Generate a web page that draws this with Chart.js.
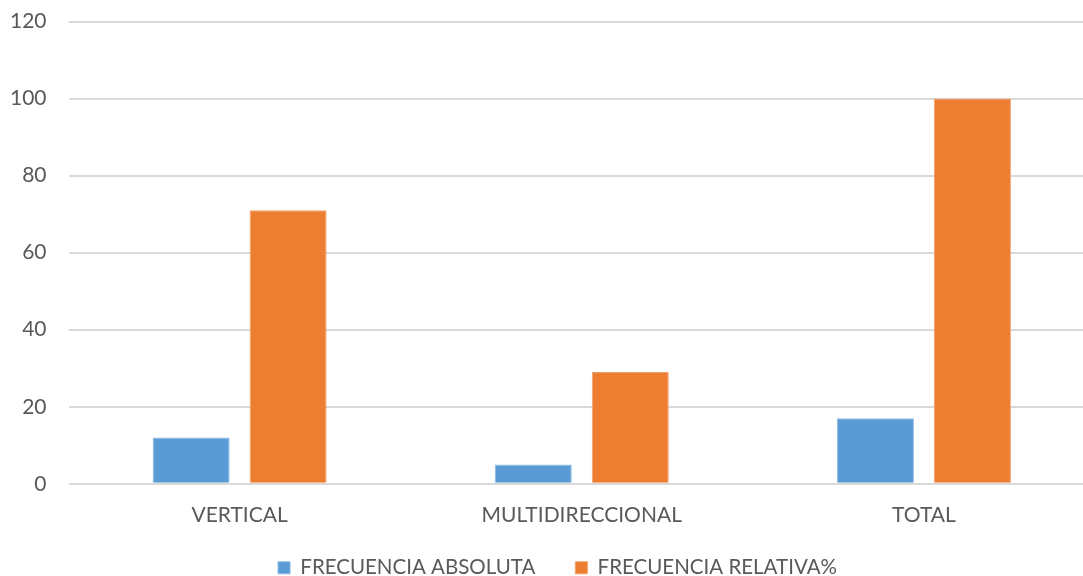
<!DOCTYPE html>
<html>
<head>
<meta charset="utf-8">
<script src="https://cdn.jsdelivr.net/npm/chart.js@4/dist/chart.umd.min.js"></script>
<style>
    html, body { margin: 0; padding: 0; background: #fff; overflow: hidden; }
    #wrap { width: 1100px; height: 576px; }
</style>
</head>
<body>
<div id="wrap"><canvas id="barChart" width="1100" height="576"></canvas></div>
<script>
const categories = ['VERTICAL', 'MULTIDIRECCIONAL', 'TOTAL'];
const absoluta = [12, 5, 17];
const relativa = [71, 29, 100];
const seriesNames = ['FRECUENCIA ABSOLUTA', 'FRECUENCIA RELATIVA%'];
const yMax = 120;
const yStep = 20;

const textColor = '#595959';
const gridColor = '#d9d9d9';
const fontFamily = 'Lato, "Open Sans", sans-serif';

// move the legend up under the category labels and a bit right of centre
const legendShift = {
    id: 'legendShift',
    afterLayout(chart) {
        const lg = chart.legend;
        lg.left += 16;
        lg.right += 16;
        lg.top -= 29.5;
        lg.bottom -= 29.5;
    }
};

const ctx = document.getElementById('barChart').getContext('2d');
new Chart(ctx, {
    type: 'bar',
    data: {
        labels: categories,
        datasets: [{
            label: seriesNames[0],
            data: absoluta,
            backgroundColor: '#5b9bd5',
            borderColor: '#8cb9e2',
            borderWidth: 1
        }, {
            label: seriesNames[1],
            data: relativa,
            backgroundColor: '#ed7d31',
            borderColor: '#f2a06a',
            borderWidth: 1
        }]
    },
    plugins: [legendShift],
    options: {
        responsive: false,
        animation: false,
        layout: {
            padding: { top: 0, right: 5, left: -12, bottom: -41.5 }
        },
        categoryPercentage: 0.567,
        barPercentage: 0.794,
        plugins: {
            tooltip: { enabled: false },
            legend: {
                position: 'bottom',
                labels: {
                    color: textColor,
                    font: { family: fontFamily, size: 20.5 },
                    boxWidth: 12,
                    boxHeight: 12,
                    padding: 40
                }
            }
        },
        scales: {
            x: {
                grid: { display: false, drawTicks: false },
                border: { display: false },
                ticks: {
                    color: textColor,
                    font: { family: fontFamily, size: 21 },
                    padding: 19
                }
            },
            y: {
                min: 0,
                max: yMax,
                ticks: {
                    stepSize: yStep,
                    color: textColor,
                    font: { family: fontFamily, size: 21 },
                    padding: 22
                },
                grid: {
                    color: gridColor,
                    lineWidth: 2,
                    drawTicks: false
                },
                border: { display: false },
                // tick padding should only push labels sideways, not shrink the plot
                afterFit: (scale) => {
                    scale.paddingTop = 21.5;
                    scale.paddingBottom = 12.6;
                }
            }
        }
    }
});
</script>
</body>
</html>
